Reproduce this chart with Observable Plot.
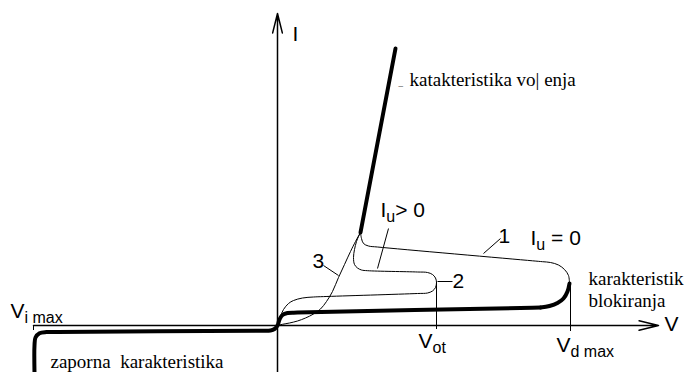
<!DOCTYPE html>
<html><head><meta charset="utf-8">
<script src="https://cdn.jsdelivr.net/npm/d3@7"></script>
<script src="https://cdn.jsdelivr.net/npm/@observablehq/plot@0.6"></script>
<style>body{margin:0;background:#fff} svg{display:block}
text.serif, text.serif tspan{font-family:"Liberation Serif","DejaVu Serif",serif !important}
text.sans, text.sans tspan{font-family:"Liberation Sans",Arial,sans-serif !important}
</style>
</head><body><div id="chart"></div>
<script>
// Values, in diagram units (V to the right, I upward; origin at axis crossing)
const reverseCharacteristic = [[-243,-47],[-243,-20],[-242,-12],[-238,-7.8],[-231,-6.6],[-220,-6.4],[-20,-5.2],[-7,-5],[-3,-3.5],[0,0],[2,6],[5,10.5],[10,12.5],[20,12.9],[255,17.8],[263,18]];
const blockingBend = [[263,18],[272,19.5],[280,22.5],[286,27],[290,34],[292,42]];
const conduction = [[83,93],[118,277]];
const curve1 = [[292,42],[291,50],[287,56],[281,60.5],[273,63],[265,63.8],[255,64.7],[100,78.5],[91,79.5],[86,82],[84,87],[83,93]];
const curve2 = [[0,0],[2.5,8],[6,16],[11,22],[16,25],[25,27.5],[36,28.5],[46,28.9],[140,32],[150,32.5],[155,34.5],[158,38],[159,43],[158,47.5],[155,51],[150,53],[140,53.5],[90,54.8],[84,55.5],[80,57.5],[77,61],[76,68],[77,76],[79,84],[81,89],[83,93]];
const curve3 = [[0,0],[5,1.2],[12,2.5],[20,4.5],[28,7.5],[36,11.5],[43,16.5],[49,24],[55,34],[61,48],[67,61],[73,74],[78,84],[81,89.5],[83,93]];
const axes = [{x1:0,y1:-47,x2:0,y2:312},{x1:-244,y1:0,x2:381,y2:0}];
const markers = [{V:159,I1:-4,I2:43},{V:293,I1:-6,I2:42},{V:-244,I1:-5,I2:0}];
const leaders = [{x1:46,y1:60,x2:61,y2:50},{x1:111,y1:97,x2:100,y2:57},{x1:206,y1:72,x2:223,y2:87},{x1:160,y1:44,x2:175,y2:44}];
const sansLabels = [
  {V:15,I:285,t:"I"},{V:387,I:-5,t:"V"},
  {V:221,I:83,t:"1"},{V:175,I:38,t:"2"},{V:35,I:58,t:"3"},
  {V:103,I:109,t:"I_{u}> 0"},{V:253,I:81,t:"I_{u} = 0"},
  {V:-267,I:8,t:"V_{i max}"},{V:141,I:-22,t:"V_{ot}"},{V:279,I:-26,t:"V_{d max}"}
];
const serifLabels = [
  {V:132,I:240,t:"katakteristika vo| enja"},
  {V:-227,I:-42,t:"zaporna  karakteristika"},
  {V:311,I:19,t:"karakteristik\nblokiranja"}
];
const tinyLabels = [{V:121,I:240,t:"_"}];

const svg = Plot.plot({
  width: 689, height: 372, margin: 0,
  x: {domain: [-277, 412], axis: null},
  y: {domain: [-47, 325], axis: null},
  marks: [
    Plot.arrow(axes, {x1:"x1",y1:"y1",x2:"x2",y2:"y2",stroke:"black",strokeWidth:1.5,headLength:20,headAngle:28}),
    Plot.ruleX(markers, {x:"V", y1:"I1", y2:"I2", stroke:"black", strokeWidth:1}),
    Plot.link(leaders, {x1:"x1",y1:"y1",x2:"x2",y2:"y2",stroke:"black",strokeWidth:1}),
    Plot.line(curve3, {curve:"catmull-rom", stroke:"black", strokeWidth:1}),
    Plot.line(curve2, {curve:"catmull-rom", stroke:"black", strokeWidth:1}),
    Plot.line(curve1, {curve:"catmull-rom", stroke:"black", strokeWidth:1}),
    Plot.line(reverseCharacteristic, {curve:"catmull-rom", stroke:"black", strokeWidth:4}),
    Plot.line(blockingBend, {curve:"catmull-rom", stroke:"black", strokeWidth:4}),
    Plot.line(conduction, {stroke:"black", strokeWidth:4}),
    Plot.text(sansLabels, {x:"V", y:"I", text:"t", textAnchor:"start", lineAnchor:"bottom", fontSize:21, fill:"black"}),
    Plot.text(serifLabels, {x:"V", y:"I", text:"t", textAnchor:"start", lineAnchor:"bottom", lineHeight:1.15, fontSize:19, fill:"black"}),
    Plot.text(tinyLabels, {x:"V", y:"I", text:"t", textAnchor:"start", lineAnchor:"bottom", fontSize:9, fill:"black"})
  ]
});

const serifSet = new Set([...serifLabels, ...tinyLabels].map(d => d.t.replace(/\n/g, "")));
d3.select(svg).selectAll("text").each(function() {
  const s = this.textContent;
  const t = d3.select(this);
  if (serifSet.has(s)) { t.classed("serif", true); return; }
  t.classed("sans", true);
  const m = s.match(/^(.*?)_\{(.*?)\}(.*)$/);
  if (!m) return;
  t.text(null);
  t.append("tspan").text(m[1]);
  t.append("tspan").attr("dy", 5).attr("font-size", 16).text(m[2]);
  if (m[3]) t.append("tspan").attr("dy", -5).text(m[3]);
});
document.getElementById("chart").appendChild(svg);
</script></body></html>
